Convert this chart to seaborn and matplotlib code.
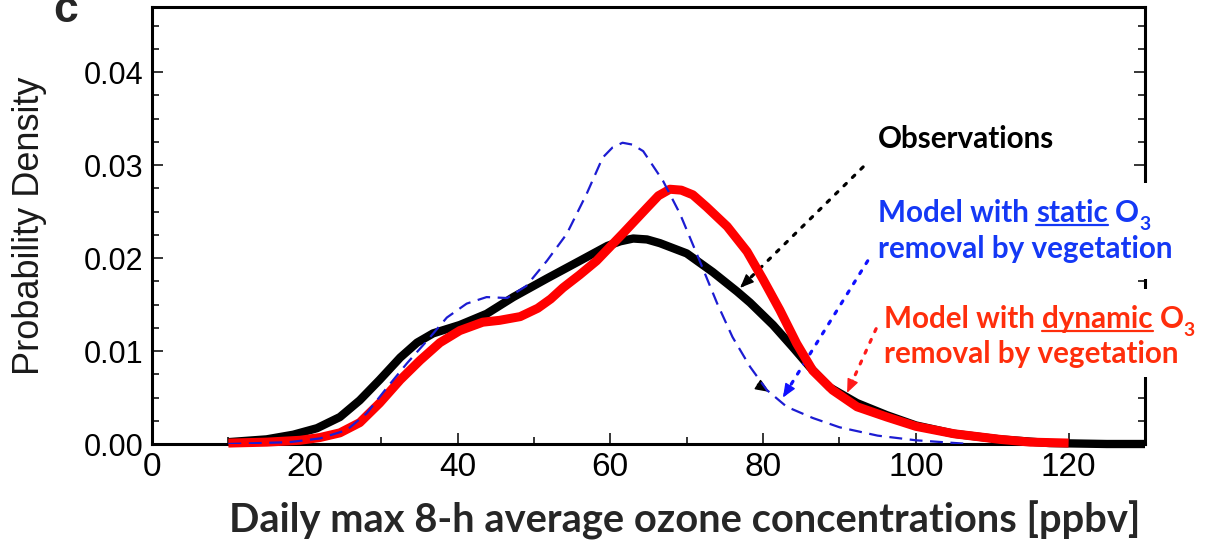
import matplotlib
matplotlib.use("Agg")
import numpy as np
import matplotlib.pyplot as plt
import matplotlib.ticker as mticker
from matplotlib.transforms import IdentityTransform
from matplotlib.patches import Rectangle
from matplotlib.lines import Line2D
import seaborn as sns

# --- values (ppbv, probability density) ---
obs_x = [10, 15, 18.5, 21.6, 24.6, 27.2, 29.8, 32.5, 34.7, 36.8, 40.3, 43.8, 47.3, 51.7,
         56.0, 59.6, 61.3, 63.0, 64.8, 66.5, 70.0, 73.4, 76.6, 78.3, 81.3, 83.9, 86.1,
         88.7, 92.3, 96.2, 100, 105, 111, 117.5, 125, 130]
obs_y = [0.0002, 0.0005, 0.0010, 0.0017, 0.0029, 0.0047, 0.0069, 0.0093, 0.0109, 0.0119,
         0.0128, 0.0140, 0.0158, 0.0178, 0.0197, 0.0213, 0.0218, 0.0221, 0.0220, 0.0216,
         0.0205, 0.0185, 0.0164, 0.0152, 0.0128, 0.0104, 0.0083, 0.0061, 0.0044, 0.0031,
         0.0020, 0.0011, 0.0005, 0.0001, 0.0, 0.0]

dyn_x = [10, 15, 19.4, 22, 24.6, 27.2, 29.8, 32.5, 35.1, 37.7, 40.3, 43.3, 45.5, 48.2,
         50.5, 52.2, 53.8, 56.0, 58.2, 61.6, 64.8, 66.3, 67.8, 69.3, 70.8, 72.6, 75.3,
         77.9, 80.0, 82.2, 84.4, 86.5, 89.1, 92.3, 96.2, 100, 105, 111, 115, 120]
dyn_y = [0.0001, 0.0002, 0.0004, 0.0007, 0.0012, 0.0023, 0.0044, 0.0069, 0.0090, 0.0109,
         0.0122, 0.0131, 0.0133, 0.0137, 0.0146, 0.0156, 0.0168, 0.0182, 0.0197, 0.0226,
         0.0254, 0.0267, 0.0274, 0.0273, 0.0268, 0.0255, 0.0234, 0.0207, 0.0177, 0.0144,
         0.0108, 0.0079, 0.0058, 0.0040, 0.0029, 0.0019, 0.0011, 0.0005, 0.0002, 0.0001]

sta_x = [10, 18, 22, 25.5, 28.1, 30.8, 33.4, 36.0, 38.6, 41.2, 43.8, 46.5, 49.0, 51.7,
         54.3, 56.9, 59.0, 60.3, 61.6, 62.9, 64.3, 66.9, 69.1, 71.7, 74.0, 76.0, 78.3,
         80.5, 83.1, 86.5, 90, 95, 100, 107]
sta_y = [0.0, 0.0002, 0.0006, 0.0015, 0.0033, 0.0061, 0.0087, 0.0111, 0.0136, 0.0151,
         0.0158, 0.0157, 0.0170, 0.0197, 0.0226, 0.0269, 0.0308, 0.0319, 0.0324, 0.0322,
         0.0315, 0.0283, 0.0248, 0.0197, 0.0151, 0.0115, 0.0083, 0.0058, 0.0040, 0.0028,
         0.0018, 0.0009, 0.0004, 0.0]

x_label = 'Daily max 8-h average ozone concentrations [ppbv]'
y_label = 'Probability Density'

W, H = 1207, 547
sns.set_theme(style="ticks")
plt.rcParams['font.family'] = ['Liberation Sans', 'DejaVu Sans']
CAL = ['Lato', 'DejaVu Sans']

fig = plt.figure(figsize=(W / 100, H / 100), dpi=100)
ax = fig.add_axes([152 / W, 1 - 444 / H, 993 / W, 437 / H])

sns.lineplot(x=obs_x, y=obs_y, ax=ax, color='black', linewidth=6,
             solid_capstyle='butt', solid_joinstyle='round', zorder=3, clip_on=False)
sns.lineplot(x=dyn_x, y=dyn_y, ax=ax, color='#ff0000', linewidth=6.5,
             solid_capstyle='butt', solid_joinstyle='round', zorder=4, clip_on=False)
sns.lineplot(x=sta_x, y=sta_y, ax=ax, color='#1c1cd2', linewidth=1.6,
             linestyle=(0, (5.8, 3.4)), zorder=5)

ax.set_xlim(0, 130)
ax.set_ylim(0, 0.047)
ax.xaxis.set_major_locator(mticker.MultipleLocator(20))
ax.xaxis.set_minor_locator(mticker.MultipleLocator(10))
ax.yaxis.set_major_locator(mticker.MultipleLocator(0.01))
ax.yaxis.set_minor_locator(mticker.MultipleLocator(0.0025))
ax.yaxis.set_major_formatter(mticker.FormatStrFormatter('%.2f'))
ax.tick_params(which='both', direction='in', top=False, right=True,
               colors='black', width=1.1)
ax.tick_params(which='major', length=8)
ax.tick_params(which='minor', length=5)
ax.tick_params(axis='x', labelsize=24, pad=6)
ax.tick_params(axis='y', labelsize=22, pad=6)
for s in ax.spines.values():
    s.set_visible(True)
    s.set_linewidth(2.2)
    s.set_color('black')
ax.set_xlabel('')
ax.set_ylabel(y_label, fontsize=26, color='#1a1a1a')
ax.yaxis.set_label_coords(-0.106, 0.5)

# --- helpers for the annotation texts ---
renderer = fig.canvas.get_renderer()


def text_width(s, size):
    t = fig.text(0, 0, s, fontsize=size, fontweight='bold', family=CAL)
    w = t.get_window_extent(renderer).width
    t.remove()
    return w


ann_size = 20 * 295 / text_width('removal by vegetation', 20)
lab_size = 20 * 910 / text_width(x_label, 20)


def space_w(size):
    return text_width('a a', size) - text_width('aa', size)


def write_line(x0, base, parts, color, size):
    x = x0
    for txt, kind in parts:
        if kind == 'sp':
            x += space_w(size)
            continue
        fs = size * 0.65 if kind == 'sub' else size
        y = H - base - (size * 100 / 72 * 0.28 if kind == 'sub' else 0)
        t = fig.text(x, y, txt, transform=IdentityTransform(), fontsize=fs,
                     fontweight='bold', family=CAL, color=color,
                     va='baseline', ha='left', zorder=6)
        bb = t.get_window_extent(renderer)
        if kind == 'u':
            fig.add_artist(Line2D([bb.x0, bb.x1], [y - 3, y - 3],
                                  transform=IdentityTransform(), color=color,
                                  lw=1.6, zorder=6))
        x = bb.x1


def pointer(tail, head, color, dotted=True):
    if dotted:
        ax.annotate('', xy=head, xytext=tail, annotation_clip=False,
                    arrowprops=dict(arrowstyle='-', color=color, lw=2.3,
                                    linestyle=(0, (1, 2.7)), shrinkA=0, shrinkB=0))
    p_t = ax.transData.transform(tail)
    p_h = ax.transData.transform(head)
    d = (p_t - p_h) / np.hypot(*(p_t - p_h))
    start = ax.transData.inverted().transform(p_h + d * 14)
    ax.annotate('', xy=head, xytext=start, annotation_clip=False,
                arrowprops=dict(arrowstyle='-|>,head_length=0.6,head_width=0.25',
                                color=color, lw=1, mutation_scale=14,
                                shrinkA=0, shrinkB=0))


# white blocks behind the model texts (they hide the right frame there)
fig.add_artist(Rectangle((874, H - 279), 320, 96, transform=IdentityTransform(),
                         facecolor='white', edgecolor='none', zorder=5))
fig.add_artist(Rectangle((880, H - 377), 325, 88, transform=IdentityTransform(),
                         facecolor='white', edgecolor='none', zorder=5))

BLUE = '#1438f5'
RED = '#ff2e0c'
write_line(878, 148, [('Observations', '')], 'black', ann_size)
write_line(878, 222, [('Model with', ''), (' ', 'sp'), ('static', 'u'), (' ', 'sp'),
                      ('O', ''), ('3', 'sub')], BLUE, ann_size)
write_line(878, 258, [('removal by vegetation', '')], BLUE, ann_size)
write_line(884, 328, [('Model with', ''), (' ', 'sp'), ('dynamic', 'u'), (' ', 'sp'),
                      ('O', ''), ('3', 'sub')], RED, ann_size)
write_line(884, 363, [('removal by vegetation', '')], RED, ann_size)

pointer((93.1, 0.0298), (77.0, 0.0168), 'black')
pointer((93.7, 0.0197), (82.6, 0.0050), '#1010ff')
pointer((94.8, 0.0124), (91.0, 0.0055), '#ff1a1a')
pointer((79.3, 0.0064), (80.8, 0.0056), 'black', dotted=False)

fig.text(685, H - 532, x_label, transform=IdentityTransform(), ha='center',
         va='baseline', fontsize=lab_size, fontweight='bold', family=CAL)
fig.text(53, H - 22, 'c', transform=IdentityTransform(), fontsize=32,
         fontweight='bold', va='baseline')

fig.savefig('out.png', dpi=100)
